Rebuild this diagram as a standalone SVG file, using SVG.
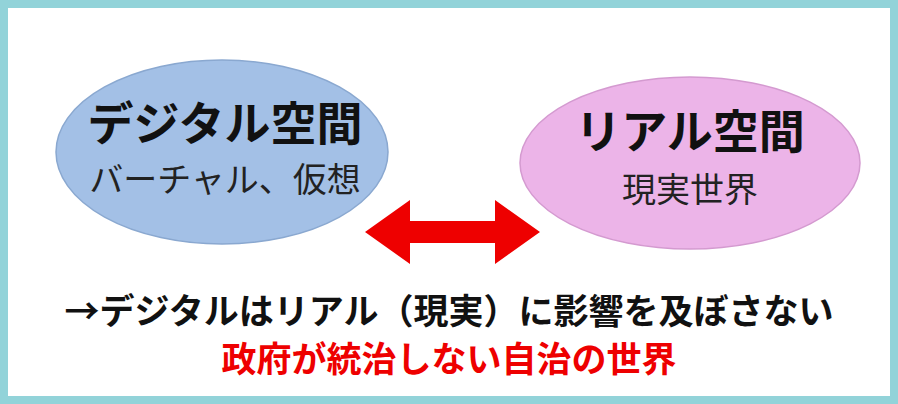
<svg xmlns="http://www.w3.org/2000/svg" width="898" height="404" viewBox="0 0 898 404">
<style>
text{font-family:"Noto Sans CJK JP",sans-serif;text-anchor:middle}
.t{font-weight:bold;font-size:46px;fill:#111}
.s{font-size:34px;fill:#222}
.b{font-weight:bold;font-size:35px}
</style>
<rect x="0" y="0" width="898" height="404" fill="#fff"/>
<rect x="4" y="4" width="890" height="396" fill="none" stroke="#92d3d9" stroke-width="8"/>
<g id="digital">
<ellipse cx="222" cy="152" rx="166" ry="92" fill="#a3c0e6" stroke="#8aa8d0" stroke-width="1.5"/>
<text class="t" x="225" y="140">デジタル空間</text>
<text class="s" x="225" y="192">バーチャル、仮想</text>
</g>
<g id="real">
<ellipse cx="690" cy="163" rx="170" ry="86" fill="#ecb4e8" stroke="#d49ad0" stroke-width="1.5"/>
<text class="t" x="690" y="148">リアル空間</text>
<text class="s" x="690" y="202">現実世界</text>
</g>
<g id="connectors">
<polygon points="365,232 410,200 410,221 495,221 495,200 540,232 495,264 495,243 410,243 410,264" fill="#ee0000"/>
</g>
<g id="notes">
<text class="b" x="449" y="324" fill="#111">→デジタルはリアル（現実）に影響を及ぼさない</text>
<text class="b" x="449" y="372" fill="#ee0000">政府が統治しない自治の世界</text>
</g>
</svg>
